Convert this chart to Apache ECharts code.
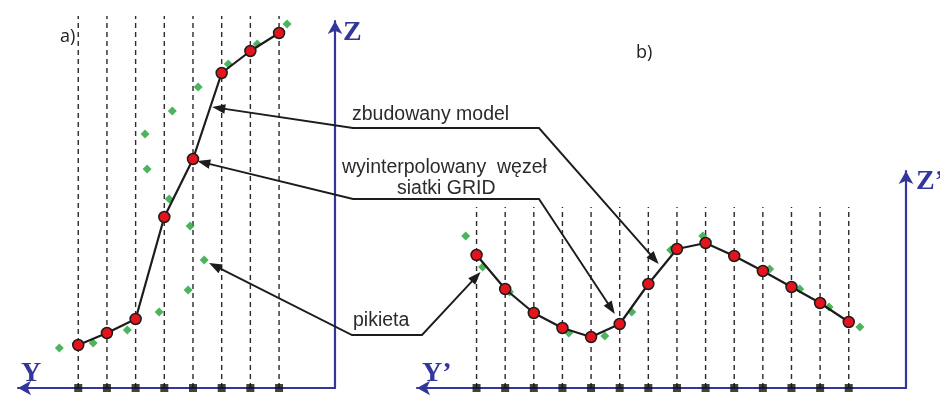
<!DOCTYPE html>
<html>
<head>
<meta charset="utf-8">
<script src="https://cdn.jsdelivr.net/npm/echarts@6/dist/echarts.min.js"></script>
<style>
html,body{margin:0;padding:0;background:#fff;}
#chart{width:940px;height:396px;}
</style>
</head>
<body>
<div id="chart"></div>
<script>
// ---------- data (grid node index along Y, elevation Z in arbitrary units) ----------
const nodesA = [0, 1, 2, 3, 4, 5, 6, 7];
const modelA = [4.3, 5.5, 6.9, 17.1, 22.9, 31.5, 33.7, 35.5];
const pikietaAPos = [-0.66, 0.52, 1.71, 2.82, 3.83, 4.39, 3.90, 3.17, 2.40, 2.33, 3.28, 4.18, 5.23, 6.24, 7.28];
const pikietaAZ   = [4.0, 4.5, 5.8, 7.6, 9.8, 12.8, 16.2, 18.9, 21.9, 25.4, 27.7, 30.1, 32.4, 34.4, 36.4];

const nodesB = [0, 1, 2, 3, 4, 5, 6, 7, 8, 9, 10, 11, 12, 13];
const modelB = [13.3, 9.9, 7.5, 6.0, 5.1, 6.4, 10.4, 13.9, 14.5, 13.2, 11.7, 10.1, 8.5, 6.6];
const pikietaBPos = [-0.38, 0.21, 1.15, 3.22, 4.48, 5.42, 6.78, 7.90, 10.24, 11.29, 12.31, 13.39];
const pikietaBZ   = [15.2, 12.1, 9.6, 5.5, 5.2, 7.6, 13.8, 15.2, 11.9, 9.9, 8.1, 6.1];

const gridTopA = 37.2;   // top of dashed grid lines, panel a
const gridTopB = 18.1;   // top of dashed grid lines, panel b

// labels
const panelLabels = ['a)', 'b)'];
const axisNames = ['Z', 'Y', 'Z\u2019', 'Y\u2019'];
const calloutTexts = ['zbudowany model', 'wyinterpolowany  w\u0119ze\u0142', 'siatki GRID', 'pikieta'];

// ---------- styles ----------
const BLUE = '#34379a';
const RED = '#e3141c';
const GREEN = '#22a035';
const INK = '#1c1c1c';
const TEXT = '#2b2b2b';

const chart = echarts.init(document.getElementById('chart'), null, {renderer: 'canvas'});

function axisX(gridIndex, min, max) {
  return {
    type: 'value', gridIndex, min, max,
    axisLine: {show: true, onZero: false, symbol: ['arrow', 'none'], symbolSize: [11, 13],
      lineStyle: {color: BLUE, width: 2.2}},
    axisTick: {show: false}, axisLabel: {show: false}, splitLine: {show: false}
  };
}
function axisY(gridIndex, min, max) {
  return {
    type: 'value', gridIndex, min, max, position: 'right',
    axisLine: {show: true, onZero: false, symbol: ['none', 'arrow'], symbolSize: [11, 13],
      lineStyle: {color: BLUE, width: 2.2}},
    axisTick: {show: false}, axisLabel: {show: false}, splitLine: {show: false}
  };
}

const series = [];
function addPanel(gi, nodes, model, pPos, pZ, vTop) {
  nodes.forEach(function (n) {
    series.push({
      type: 'line', xAxisIndex: gi, yAxisIndex: gi, data: [[n, 0], [n, vTop]],
      symbol: 'none', clip: false, silent: true, z: 1,
      lineStyle: {color: '#2a2a2a', width: 1.4, type: [5, 4]}
    });
  });
  series.push({
    type: 'scatter', xAxisIndex: gi, yAxisIndex: gi, clip: false, z: 2,
    data: pPos.map(function (p, i) { return [p, pZ[i]]; }),
    symbol: 'diamond', symbolSize: 9, itemStyle: {color: GREEN}
  });
  series.push({
    type: 'scatter', xAxisIndex: gi, yAxisIndex: gi, clip: false, z: 3,
    data: nodes.map(function (n) { return [n, 0]; }),
    symbol: 'rect', symbolSize: 8, itemStyle: {color: '#111'}
  });
  series.push({
    type: 'line', xAxisIndex: gi, yAxisIndex: gi, clip: false, z: 4,
    data: nodes.map(function (n, i) { return [n, model[i]]; }),
    symbol: 'circle', symbolSize: 11, showSymbol: true,
    lineStyle: {color: INK, width: 2.2},
    itemStyle: {color: RED, borderColor: INK, borderWidth: 1.5}
  });
}
addPanel(0, nodesA, modelA, pikietaAPos, pikietaAZ, gridTopA);
addPanel(1, nodesB, modelB, pikietaBPos, pikietaBZ, gridTopB);

chart.setOption({
  animation: false,
  backgroundColor: '#fff',
  grid: [
    {left: 18, width: 317, top: 21, height: 367},
    {left: 417, width: 489, top: 171, height: 217}
  ],
  xAxis: [axisX(0, -2.1, 8.95), axisX(1, -2.08, 15.0)],
  yAxis: [axisY(0, 0, 36.7), axisY(1, 0, 21.7)],
  series: series
});

// ---------- callout arrows (tips given in data coordinates) ----------
const callouts = [
  {a: [4.67, 28.1], bends: [[353, 128], [539, 128]], b: [6.36, 12.4]},
  {a: [4.15, 22.7], bends: [[353, 199], [539, 199]], b: [4.83, 7.4]},
  {a: [4.56, 12.5], bends: [[352, 335], [422, 335]], b: [0.14, 11.6]}
];

const graphics = [];
function arrowHead(tip, from) {
  const dx = tip[0] - from[0], dy = tip[1] - from[1];
  const len = Math.sqrt(dx * dx + dy * dy);
  const ux = dx / len, uy = dy / len;
  const L = 13, W = 4.8;
  const bx = tip[0] - ux * L, by = tip[1] - uy * L;
  graphics.push({
    type: 'polygon', z: 100,
    shape: {points: [tip, [bx - uy * W, by + ux * W], [bx + uy * W, by - ux * W]]},
    style: {fill: INK}
  });
  return [tip[0] - ux * (L - 2), tip[1] - uy * (L - 2)];
}
callouts.forEach(function (c) {
  const pa = chart.convertToPixel({gridIndex: 0}, c.a);
  const pb = chart.convertToPixel({gridIndex: 1}, c.b);
  const s = arrowHead(pa, c.bends[0]);
  const e = arrowHead(pb, c.bends[c.bends.length - 1]);
  graphics.push({
    type: 'polyline', z: 99,
    shape: {points: [s].concat(c.bends, [e])},
    style: {stroke: INK, lineWidth: 1.9, fill: null}
  });
});

function txt(text, x, y, font, fill) {
  graphics.push({type: 'text', x: x, y: y, z: 101,
    style: {text: text, font: font, fill: fill, align: 'left', verticalAlign: 'middle'}});
}
const calloutFont = '19.5px "Liberation Sans", Arial, sans-serif';
txt(calloutTexts[0], 352, 115, calloutFont, TEXT);
txt(calloutTexts[1], 342, 168, calloutFont, TEXT);
txt(calloutTexts[2], 397, 189, calloutFont, TEXT);
txt(calloutTexts[3], 353, 321, calloutFont, TEXT);

const axisFont = 'bold 28px "Liberation Serif", "Times New Roman", serif';
txt(axisNames[0], 343, 33, axisFont, BLUE);
txt(axisNames[1], 21, 374, axisFont, BLUE);
txt(axisNames[2], 916, 182, axisFont, BLUE);
txt(axisNames[3], 422, 374, axisFont, BLUE);

const panelFont = '18px "Open Sans", "Liberation Sans", sans-serif';
txt(panelLabels[0], 60, 37, panelFont, '#222');
txt(panelLabels[1], 636, 53, panelFont, '#222');

chart.setOption({graphic: graphics});
</script>
</body>
</html>
